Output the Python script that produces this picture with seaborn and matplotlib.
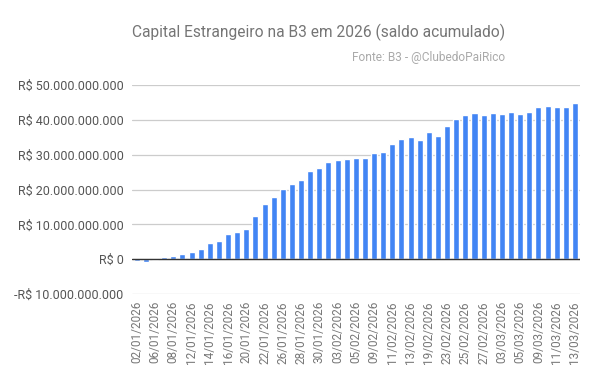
import matplotlib
matplotlib.use('Agg')
import matplotlib.pyplot as plt
import matplotlib.ticker as mticker
import pandas as pd
import seaborn as sns

# trading days (dd/mm/2026)
datas = ['02/01', '05/01', '06/01', '07/01', '08/01', '09/01', '12/01', '13/01',
         '14/01', '15/01', '16/01', '19/01', '20/01', '21/01', '22/01', '23/01',
         '26/01', '27/01', '28/01', '29/01', '30/01', '02/02', '03/02', '04/02',
         '05/02', '06/02', '09/02', '10/02', '11/02', '12/02', '13/02', '18/02',
         '19/02', '20/02', '23/02', '24/02', '25/02', '26/02', '27/02', '02/03',
         '03/03', '04/03', '05/03', '06/03', '09/03', '10/03', '11/03', '12/03',
         '13/03']
datas = [d + '/2026' for d in datas]

# saldo acumulado, em bilhoes de R$
saldo_bi = [-0.57, -0.86, -0.3, 0.57, 0.96, 1.53, 2.1, 2.96,
            4.58, 5.25, 7.16, 7.83, 8.6, 12.4, 15.76, 17.86,
            20.15, 21.5, 22.9, 25.3, 26.1, 27.8, 28.4, 28.9,
            29.2, 29.2, 30.4, 30.9, 33.2, 34.4, 35.0, 34.1,
            36.4, 35.5, 38.4, 40.4, 41.3, 42.1, 41.5, 42.1,
            41.8, 42.4, 41.8, 42.4, 43.8, 44.1, 43.6, 43.8,
            45.0]

df = pd.DataFrame({'data': datas, 'saldo': [v * 1e9 for v in saldo_bi]})

sns.set_style('white')
plt.rcParams['font.family'] = ['Roboto', 'DejaVu Sans']

fig = plt.figure(figsize=(6, 3.85), dpi=100)
ax = fig.add_axes([0.22, 0.236, 0.747, 0.543])

sns.barplot(ax=ax, data=df, x='data', y='saldo', color='#4285F4',
            saturation=1, width=0.66, zorder=3)

ax.set_ylim(-10e9, 50e9)
ax.set_xlim(-0.52, 48.58)
ax.yaxis.set_major_locator(mticker.MultipleLocator(10e9))

def fmt_real(v, pos):
    n = int(round(v))
    s = '{:,}'.format(abs(n)).replace(',', '.')
    return ('-R$ ' if n < 0 else 'R$ ') + s

ax.yaxis.set_major_formatter(mticker.FuncFormatter(fmt_real))
ax.grid(True, axis='y', color='#cccccc', lw=0.9, zorder=0)
ax.axhline(0, color='#333333', lw=1, zorder=4)

ax.set_xticks(range(0, len(datas), 2))
ax.set_xticklabels(datas[::2], rotation=90)
ax.tick_params(axis='x', length=0, pad=5, labelsize=8.5, labelcolor='#777777')
ax.tick_params(axis='y', length=0, pad=6, labelsize=9, labelcolor='#555555')

for s in ax.spines.values():
    s.set_visible(False)
ax.set_xlabel('')
ax.set_ylabel('')

fig.text(505 / 600, 1 - 32 / 385, 'Capital Estrangeiro na B3 em 2026 (saldo acumulado)',
         ha='right', va='center', fontsize=11.2, color='#757575')
fig.text(505 / 600, 1 - 57 / 385, 'Fonte: B3 - @ClubedoPaiRico',
         ha='right', va='center', fontsize=8.6, color='#aaaaaa')

fig.savefig('out.png', dpi=100)
